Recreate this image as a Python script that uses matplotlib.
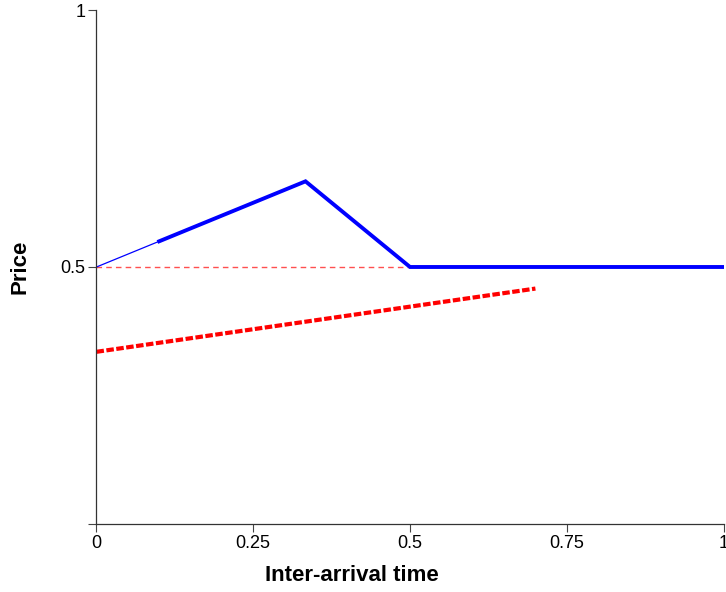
import numpy as np
import matplotlib
matplotlib.use("Agg")
import matplotlib.pyplot as plt

plt.rcParams['font.family'] = ['Liberation Sans', 'DejaVu Sans']

# blue price path: thin start, then thick segment
blue_thin_x = [0.0, 0.1]
blue_thin_y = [0.5, 0.55]
blue_x = [0.1, 1/3, 0.5, 1.0]
blue_y = [0.55, 2/3, 0.5, 0.5]

# red reference lines
red_thin_x = [0.0, 0.5]
red_thin_y = [0.5, 0.5]
red_x = [0.0, 0.7]
red_y = [0.335, 0.458]

xticks = [0, 0.25, 0.5, 0.75, 1]
xticklabels = ['0', '0.25', '0.5', '0.75', '1']
yticks = [0, 0.5, 1]
yticklabels = ['', '0.5', '1']

fig = plt.figure(figsize=(7.26, 5.92), dpi=100)
ax = fig.add_axes([0.1329, 0.1149, 0.8637, 0.8682])

ax.plot(red_thin_x, red_thin_y, color='#ff5050', lw=1.0, dashes=(4, 3))
ax.plot(red_x, red_y, color='#ff0000', lw=3.0, dashes=(1.8, 0.6), solid_capstyle='butt')
ax.plot(blue_thin_x, blue_thin_y, color='#0000ff', lw=0.9)
ax.plot(blue_x, blue_y, color='#0000ff', lw=2.8, solid_joinstyle='miter')

ax.set_xlim(0, 1)
ax.set_ylim(0, 1)
ax.set_xticks(xticks)
ax.set_xticklabels(xticklabels)
ax.set_yticks(yticks)
ax.set_yticklabels(yticklabels)
ax.tick_params(axis='both', labelsize=13, length=6, width=0.8, color='#444444', pad=2)

for s in ['top', 'right']:
    ax.spines[s].set_visible(False)
for s in ['left', 'bottom']:
    ax.spines[s].set_color('#333333')
    ax.spines[s].set_linewidth(0.9)

ax.set_xlabel('Inter-arrival time', fontsize=16, fontweight='bold')
ax.xaxis.set_label_coords(0.408, -0.08)
ax.set_ylabel('Price', fontsize=16, fontweight='bold')
ax.yaxis.set_label_coords(-0.105, 0.5)

fig.savefig('out.png', dpi=100)
